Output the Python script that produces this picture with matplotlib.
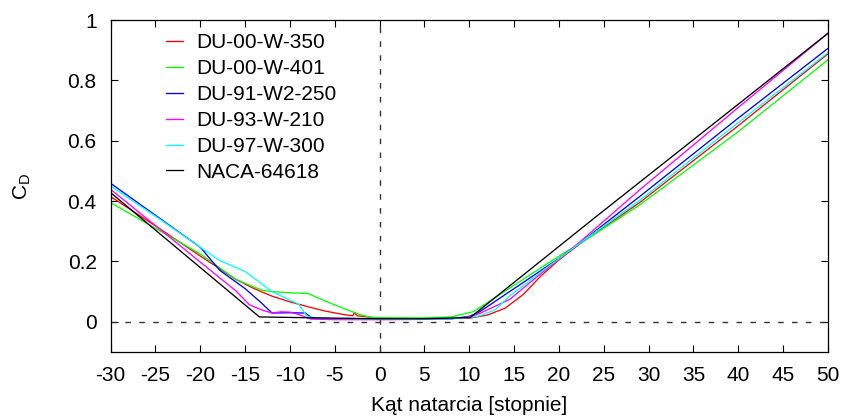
import matplotlib
matplotlib.use("Agg")
import matplotlib.pyplot as plt

plt.rcParams['font.family'] = ['Liberation Sans', 'DejaVu Sans']
plt.rcParams['axes.unicode_minus'] = False

# drag coefficient vs angle of attack
names = ["DU-00-W-350", "DU-00-W-401", "DU-91-W2-250", "DU-93-W-210", "DU-97-W-300", "NACA-64618"]
colors = ["#ff0000", "#00ff00", "#0000ff", "#ff00ff", "#00ffff", "#000000"]

x_350 = [-30, -25, -20, -16, -14, -12, -10, -8, -6, -4, -3, -2.8, -2.5, 0, 5, 10, 12, 14, 16, 18, 20, 22.5, 29, 40, 50]
cd_350 = [0.415, 0.318, 0.218, 0.140, 0.110, 0.085, 0.066, 0.050, 0.035, 0.024, 0.020, 0.030, 0.020, 0.012, 0.010,
          0.012, 0.022, 0.045, 0.090, 0.152, 0.205, 0.262, 0.395, 0.650, 0.888]

x_401 = [-30, -25, -20, -16, -14, -13, -12, -10, -8, -6, -4, -2, -1, 0, 5, 8, 10.5, 15, 18, 20.5, 22.5, 29, 40, 50]
cd_401 = [0.395, 0.310, 0.225, 0.140, 0.115, 0.104, 0.100, 0.096, 0.094, 0.068, 0.044, 0.022, 0.015, 0.013, 0.013,
          0.016, 0.034, 0.121, 0.179, 0.227, 0.262, 0.387, 0.630, 0.868]

x_250 = [-30, -25, -20, -17.8, -15, -13.2, -12, -10, -8.3, -7.5, -5, 0, 5, 8, 10, 11, 13.5, 16, 20, 22.4, 29, 40, 50]
cd_250 = [0.459, 0.353, 0.247, 0.170, 0.110, 0.063, 0.029, 0.030, 0.029, 0.012, 0.009, 0.008, 0.008, 0.010,
          0.018, 0.030, 0.080, 0.130, 0.210, 0.262, 0.415, 0.675, 0.906]

x_210 = [-30, -25, -20, -17.8, -16, -14.5, -13, -12, -11, -10, -9, -7.7, -5, 0, 5, 8, 10, 11.2, 14.5, 18, 22.4, 29, 40, 50]
cd_210 = [0.439, 0.319, 0.198, 0.145, 0.102, 0.056, 0.038, 0.029, 0.033, 0.032, 0.024, 0.009, 0.007, 0.007, 0.008,
          0.010, 0.016, 0.028, 0.074, 0.160, 0.266, 0.437, 0.710, 0.956]

x_300 = [-30, -25, -20, -17.8, -15, -13.5, -12, -10, -9, -8.1, -7, -5, 0, 5, 8, 10, 11.2, 12.9, 14.5, 18, 22.4, 29, 40, 50]
cd_300 = [0.450, 0.350, 0.247, 0.203, 0.167, 0.134, 0.100, 0.072, 0.058, 0.018, 0.013, 0.011, 0.009, 0.009, 0.010,
          0.014, 0.020, 0.040, 0.085, 0.165, 0.262, 0.402, 0.660, 0.892]

x_naca = [-30, -13.4, -5, 0, 5, 10.1, 24, 50]
cd_naca = [0.428, 0.016, 0.012, 0.010, 0.010, 0.014, 0.345, 0.956]

xs = [x_350, x_401, x_250, x_210, x_300, x_naca]
ys = [cd_350, cd_401, cd_250, cd_210, cd_300, cd_naca]

xticks = list(range(-30, 51, 5))
yticks = [0, 0.2, 0.4, 0.6, 0.8, 1]
ytick_labels = ["0", "0.2", "0.4", "0.6", "0.8", "1"]

fig = plt.figure(figsize=(8.44, 4.17), dpi=100)
ax = fig.add_axes([0.131, 0.156, 0.850, 0.796])

dash = (0, (4, 6))
ax.axhline(0, color="#333333", lw=1.0, ls=dash)
ax.axvline(0, color="#333333", lw=1.0, ls=dash)

for x, y, c, n in zip(xs, ys, colors, names):
    ax.plot(x, y, color=c, lw=0.95, label=n)

ax.set_xlim(-30, 50)
ax.set_ylim(-0.1, 1)
ax.set_xticks(xticks)
ax.set_xticklabels([str(t) for t in xticks])
ax.set_yticks(yticks)
ax.set_yticklabels(ytick_labels)
ax.tick_params(direction="in", top=True, right=True, length=5, width=0.8, labelsize=15, pad=10)
for s in ax.spines.values():
    s.set_linewidth(0.9)

ax.set_xlabel("Kąt natarcia [stopnie]", fontsize=15, labelpad=8)
ax.set_ylabel(r"$\mathregular{C_D}$", fontsize=15)
ax.yaxis.set_label_coords(-0.108, 0.5)

ax.legend(loc="upper left", bbox_to_anchor=(0.077, 0.96), frameon=False, fontsize=15,
          handlelength=0.82, handletextpad=0.63, labelspacing=0.33, borderaxespad=0, borderpad=0)

fig.savefig("out.png", dpi=100)
